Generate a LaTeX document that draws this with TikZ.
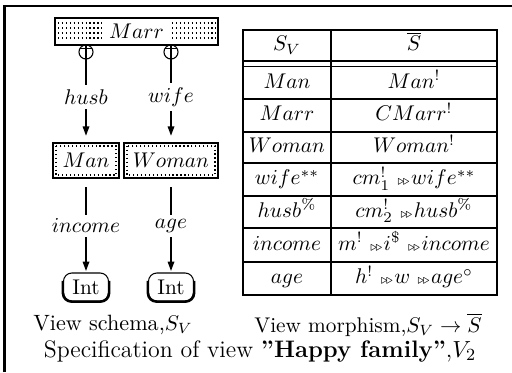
\documentclass[tikz,border=0pt]{standalone}
\usepackage{amssymb}
\usetikzlibrary{arrows.meta,calc}
% sequential composition sign
\newcommand{\thn}{\mathord{\mkern6mu\scriptscriptstyle\triangleright\mkern-3mu\triangleright\mkern1mu}}

\begin{document}
\begin{tikzpicture}[x=0.47pt,y=-0.47pt,
  frame/.style={line width=1pt},
  entbox/.style={draw, line width=1pt, inner sep=0pt},
  dotline/.style={line width=0.6pt, dash pattern=on 0.6pt off 1.25pt},
  joint/.style={circle, draw, line width=0.5pt, minimum size=6.6pt, inner sep=0pt, fill=white},
  arr/.style={line width=0.9pt, -{Triangle[length=4.5pt,width=3pt]}},
  lbl/.style={fill=white, inner sep=2pt},
  intbox/.style={draw, rounded corners=4pt, line width=0.5pt, minimum width=21.2pt,
                 minimum height=13.2pt, inner sep=0pt},
  tline/.style={line width=0.9pt},
  cell/.style={text height=7pt, text depth=2pt, inner sep=0pt}
]
\useasboundingbox (0,0) rectangle (512,372);
\draw[frame] (4.5,372) -- (4.5,6) -- (512,6);

% ---------- view schema ----------
\node[entbox, minimum width=76.6pt, minimum height=12.7pt] (marr) at (136.5,31.5) {};
\foreach \r in {1,...,4}
  \draw[dotline] ($(marr.north west)+(4,{1+5*\r})$) -- ($(marr.north east)+(-3,{1+5*\r})$);
\node[fill=white, inner xsep=3.3pt, inner ysep=0pt, minimum height=10.5pt] (marrlbl) at (marr.center) {$Marr$};

\node[entbox, minimum width=31pt, minimum height=16.5pt] (man) at (86,160.5) {};
\draw[dotline] ($(man.north west)+(4,4)$) rectangle ($(man.south east)+(-4,-4)$);
\node (manlbl) at (man.center) {$Man$};

\node[entbox, minimum width=44.2pt, minimum height=16.5pt] (woman) at (171,160.5) {};
\draw[dotline] ($(woman.north west)+(4,4)$) rectangle ($(woman.south east)+(-4,-4)$);
\node (womanlbl) at (woman.center) {$Woman$};

\node[joint] (j1) at (86,52) {};
\node[joint] (j2) at (171,52) {};
\foreach \j in {j1,j2}
  \draw[line width=0.5pt] ($(\j.center)+(-6,-3.5)$) -- ($(\j.center)+(6,-3.5)$);

\draw[arr, shorten >=2.8pt] (j1.north) -- node[lbl, pos=0.54] (lhusb) {$husb$} (man.north);
\draw[arr, shorten >=2.8pt] (j2.north) -- node[lbl, pos=0.54] (lwife) {$wife$} (woman.north);

\node[intbox] (int1) at (86,287) {Int};
\node[intbox] (int2) at (171,287) {Int};
\foreach \n in {int1,int2}
  \draw[line width=1.2pt, rounded corners=4pt]
    ($(\n.north west)+(0,8.5)$) -- (\n.south west) -- (\n.south east) -- ($(\n.north east)+(0,8.5)$);

\draw[arr, shorten <=3.8pt, shorten >=0.6pt] (man.south) -- node[lbl, pos=0.5] (linc) {$income$} (int1.north);
\draw[arr, shorten <=3.8pt, shorten >=0.6pt] (woman.south) -- node[lbl, pos=0.5] (lage) {$age$} (int2.north);

\node[font=\fontsize{10.4}{12.5}\selectfont] (cap1) at (113,325) {View schema,$S_V$};

% ---------- view morphism table ----------
\draw[tline] (243,30) rectangle (497,295);
\draw[tline] (331,30) -- (331,295);
\foreach \y in {99,132,163,196,228,262}
  \draw[tline] (243,\y) -- (497,\y);
\foreach \y in {61,66.5}
  \draw[line width=0.75pt] (243,\y) -- (497,\y);

\node[cell] (h1) at (287,45.5) {$S_V$};
\node[cell] (h2) at (414,45.5) {$\overline{S}$};
\node[cell] (a1) at (287,83) {$Man$};
\node[cell] (a2) at (414,83) {$Man^!$};
\node[cell] (b1) at (287,115.5) {$Marr$};
\node[cell] (b2) at (414,115.5) {$CMarr^!$};
\node[cell] (c1) at (287,147.5) {$Woman$};
\node[cell] (c2) at (414,147.5) {$Woman^!$};
\node[cell] (d1) at (287,179.5) {$wife^{**}$};
\node[cell] (d2) at (414,179.5) {$cm^!_1\thn wife^{**}$};
\node[cell] (e1) at (287,212) {$husb^{\%}$};
\node[cell] (e2) at (414,212) {$cm^!_2\thn husb^{\%}$};
\node[cell] (f1) at (287,245) {$income$};
\node[cell] (f2) at (414,245) {$m^!\thn i^{\$}\thn income$};
\node[cell] (g1) at (287,278.5) {$age$};
\node[cell] (g2) at (414,278.5) {$h^!\thn w\thn age^{\circ}$};

\node (cap2) at (368,325) {View morphism,$S_V\rightarrow\overline{S}$};

\node[font=\fontsize{11.2}{13.5}\selectfont] (cap3) at (260,351)
  {Specification of view \textbf{''Happy family''},$V_2$};
\end{tikzpicture}
\end{document}
